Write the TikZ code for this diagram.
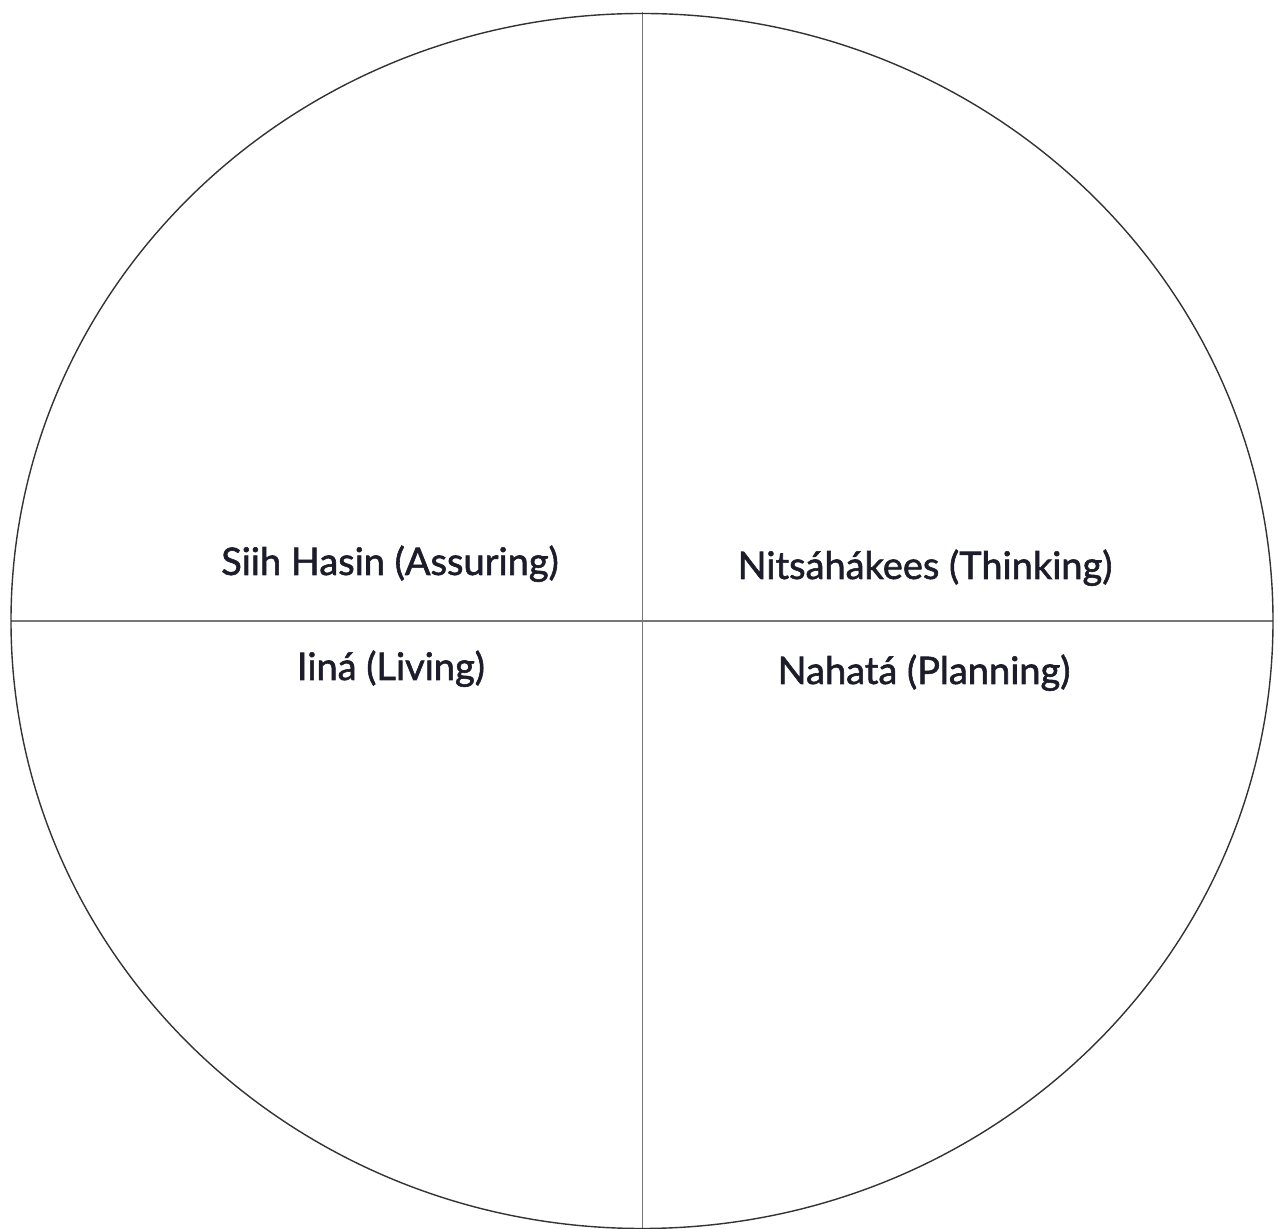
\documentclass[tikz,border=0pt]{standalone}
\usepackage{fontspec}
\setmainfont{Lato}
\newfontfamily\lblfont{Lato}[FakeBold=1.5]
\definecolor{txt}{HTML}{1C1C2A}
\definecolor{rim}{HTML}{333333}
\definecolor{axis}{HTML}{777777}
\begin{document}
\begin{tikzpicture}[x=1pt,y=1pt,
  lbl/.style={font=\lblfont\fontsize{38}{45}\selectfont, text=txt, anchor=base, inner sep=0pt},
  rimline/.style={draw=rim, line width=1.4pt},
  axisline/.style={draw=axis, line width=1.4pt}]
\useasboundingbox (0,0) rectangle (1278,1229);
\coordinate (c) at (642,608);
\coordinate (top) at (642.5,1217);
\coordinate (bot) at (642.5,0);
\coordinate (left) at (11,608);
\coordinate (right) at (1273,608);
\draw[axisline] (top) -- (bot);
\draw[axisline] (left) -- (right);
\draw[rimline] (c) ellipse [x radius=631, y radius=607.5];
\node[lbl] (assuring) at (390,654) {Siih Hasin (Assuring)};
\node[lbl] (thinking) at (925,650) {Nitsáhákees (Thinking)};
\node[lbl] (living) at (391,549) {Iiná (Living)};
\node[lbl] (planning) at (924,545) {Nahatá (Planning)};
\end{tikzpicture}
\end{document}
